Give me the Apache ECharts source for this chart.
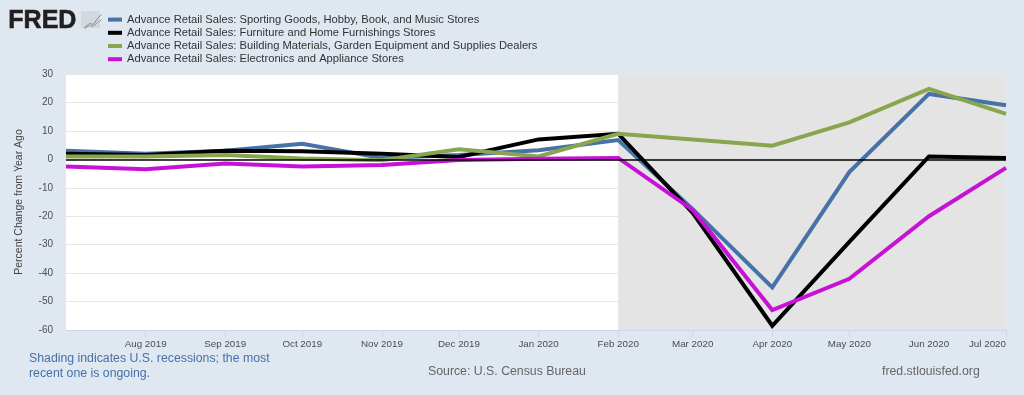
<!DOCTYPE html>
<html>
<head>
<meta charset="utf-8">
<style>
  html, body { margin: 0; padding: 0; background: #dfe7f0; }
  #chart { width: 1024px; height: 395px; }
</style>
<script src="https://cdn.jsdelivr.net/npm/echarts@6/dist/echarts.min.js"></script>
</head>
<body>
<div id="chart"></div>
<script>
const months = ["2019-07-01", "2019-08-01", "2019-09-01", "2019-10-01", "2019-11-01", "2019-12-01", "2020-01-01", "2020-02-01", "2020-03-01", "2020-04-01", "2020-05-01", "2020-06-01", "2020-07-01"];
const sporting = [3, 2, 3, 5.5, 0.5, 1.5, 3.2, 6.8, -17.5, -45, -4.5, 23, 19];
const furniture = [2, 1.5, 3, 2.8, 2, 0.8, 7, 9, -18.8, -58.5, -29, 1, 0.5];
const building = [1, 1, 1.5, 0.3, -0.3, 3.5, 1, 9, 7, 4.8, 13, 24.8, 16];
const electronics = [-2.5, -3.5, -1.5, -2.5, -2, -0.2, 0.2, 0.5, -17.8, -53, -42, -20, -3];
const recession = ["2020-02-01", "2020-07-01"];

const font = "Liberation Sans";
const chart = echarts.init(document.getElementById("chart"), null, { renderer: "canvas" });
const monthTimes = months.map((m) => +new Date(m));
const firstMonth = months[0];
const lastMonth = months[months.length - 1];

const line = (name, values, color) => ({
  name,
  type: "line",
  z: 3,
  showSymbol: false,
  symbol: "none",
  animation: false,
  lineStyle: { width: 4, color, join: "miter", cap: "butt" },
  itemStyle: { color },
  data: months.map((m, i) => [m, values[i]]),
});

const tickLabel = {
  formatter: "{MMM} {yyyy}",
  fontFamily: font,
  fontSize: 9.8,
  color: "#4d4d4d",
  margin: 9,
  hideOverlap: false,
};

chart.setOption({
  animation: false,
  backgroundColor: "#dfe7f0",
  textStyle: { fontFamily: font },
  grid: { left: 66, right: 18, top: 74, bottom: 65, show: true, backgroundColor: "#fff", borderWidth: 0, outerBoundsMode: "none" },
  legend: {
    left: 108,
    top: 13,
    orient: "vertical",
    icon: "rect",
    itemWidth: 14,
    itemHeight: 4,
    itemGap: 0,
    padding: 0,
    selectedMode: false,
    data: ["Advance Retail Sales: Sporting Goods, Hobby, Book, and Music Stores",
      "Advance Retail Sales: Furniture and Home Furnishings Stores",
      "Advance Retail Sales: Building Materials, Garden Equipment and Supplies Dealers",
      "Advance Retail Sales: Electronics and Appliance Stores"],
    textStyle: { fontFamily: font, fontSize: 11.2, lineHeight: 13.2, height: 13.2, color: "#333" },
  },
  xAxis: [
    {
      type: "time",
      min: firstMonth,
      max: lastMonth,
      axisLine: { show: true, onZero: false, lineStyle: { color: "#cbd8ea" } },
      axisTick: { show: true, length: 7, lineStyle: { color: "#cbd8ea" }, customValues: monthTimes.slice(1) },
      splitLine: { show: false },
      axisLabel: { ...tickLabel, customValues: monthTimes.slice(1, -1) },
    },
    // second axis over the first, only there to right-align the last label on the plot edge
    {
      type: "time",
      position: "bottom",
      min: firstMonth,
      max: lastMonth,
      axisLine: { show: false },
      axisTick: { show: false },
      splitLine: { show: false },
      axisLabel: { ...tickLabel, customValues: monthTimes.slice(-1), align: "right" },
    },
  ],
  yAxis: {
    type: "value",
    min: -60,
    max: 30,
    interval: 10,
    name: "Percent Change from Year Ago",
    nameLocation: "middle",
    nameGap: 41,
    nameTextStyle: { fontFamily: font, fontSize: 10.5, color: "#444" },
    axisLine: { show: false },
    axisTick: { show: false },
    axisLabel: { fontFamily: font, fontSize: 10, color: "#4d4d4d", margin: 13, padding: [2, 0, 0, 0] },
    splitLine: { show: true, lineStyle: { color: "#e6e6e6", width: 1 } },
  },
  series: [
    {
      name: "Recession",
      type: "line",
      z: 1,
      data: [],
      animation: false,
      markArea: {
        silent: true,
        itemStyle: { color: "#e4e4e4" },
        data: [[{ xAxis: recession[0] }, { xAxis: recession[1] }]],
      },
    },
    {
      name: "Zero",
      type: "line",
      z: 2,
      data: [],
      animation: false,
      markLine: {
        silent: true,
        symbol: "none",
        label: { show: false },
        lineStyle: { color: "#000", width: 1.5, type: "solid" },
        data: [{ yAxis: 0 }],
        animation: false,
      },
    },
    line("Advance Retail Sales: Sporting Goods, Hobby, Book, and Music Stores", sporting, "#4572a7"),
    line("Advance Retail Sales: Furniture and Home Furnishings Stores", furniture, "#000000"),
    line("Advance Retail Sales: Building Materials, Garden Equipment and Supplies Dealers", building, "#89a54e"),
    line("Advance Retail Sales: Electronics and Appliance Stores", electronics, "#c712d6"),
  ],
  graphic: [
    { type: "text", left: 8, top: 8, style: { text: "FRED", fontFamily: font, fontWeight: "bold", fontSize: 25, fill: "#231f20", stroke: "#231f20", lineWidth: 0.6 } },
    { type: "rect", left: 81, top: 11, shape: { width: 19, height: 17 }, style: { fill: "#d4d9de" } },
    { type: "polyline", left: 82, top: 12, shape: { points: [[0, 13], [5, 9], [9, 10], [13, 4], [17, 0]] }, style: { fill: null, stroke: "#6f8fb5", lineWidth: 1 } },
    { type: "polyline", left: 82, top: 17, shape: { points: [[0, 9], [5, 6], [9, 7], [13, 3], [17, 0]] }, style: { fill: null, stroke: "#89a54e", lineWidth: 1 } },
    { type: "text", left: 29, top: 351, style: { text: "Shading indicates U.S. recessions; the most\nrecent one is ongoing.", fontFamily: font, fontSize: 12.3, lineHeight: 15, fill: "#4572a7" } },
    { type: "text", left: 428, top: 366, style: { text: "Source: U.S. Census Bureau", fontFamily: font, fontSize: 12.3, fill: "#666" } },
    { type: "text", left: 882, top: 366, style: { text: "fred.stlouisfed.org", fontFamily: font, fontSize: 12.3, fill: "#666" } },
  ],
});
</script>
</body>
</html>
